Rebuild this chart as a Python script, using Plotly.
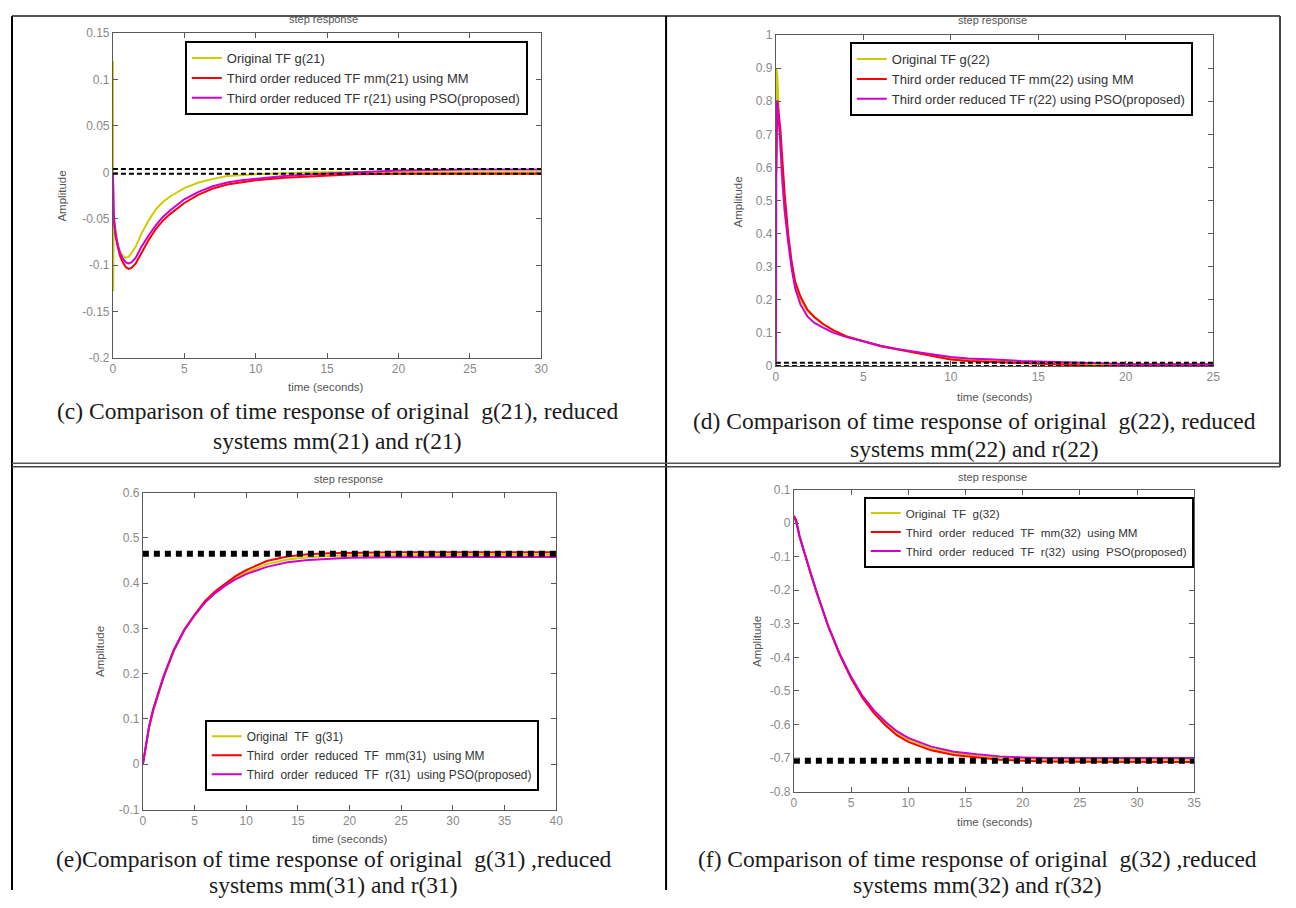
import plotly.graph_objects as go

# Figure sits inside the page's 8px body margin; positions below are written in
# reference-picture pixels and converted to paper fractions (with a small
# correction for how the page is photographed).
OFF = 8
FIG_W, FIG_H = 1280, 890
SX, BX = 0.9937, 3.0
SY, BY = 0.9875, 5.0

# ---------------- data ----------------
# (c) g(21)
t_c = [0, 0.02, 0.05, 0.1, 0.2, 0.35, 0.5, 0.7, 0.9, 1.1, 1.3, 1.6, 2, 2.5, 3, 3.5, 4, 5, 6, 7, 8, 9, 10, 12, 14, 17, 20, 25, 30]
g21 = [0.12, -0.128, -0.06, -0.052, -0.065, -0.078, -0.085, -0.09, -0.092, -0.091, -0.087, -0.08, -0.066, -0.052, -0.04, -0.032, -0.026, -0.017, -0.011, -0.007, -0.004, -0.003, -0.002, -0.001, 0.0, 0.0, 0.0, 0.0, 0.0]
mm21 = [0.0, -0.031, -0.045, -0.056, -0.07, -0.081, -0.09, -0.097, -0.102, -0.104, -0.103, -0.098, -0.087, -0.073, -0.061, -0.052, -0.045, -0.033, -0.024, -0.0175, -0.013, -0.0105, -0.0086, -0.0057, -0.004, -0.002, -0.0015, -0.0015, -0.0015]
r21 = [0.0, -0.03, -0.044, -0.055, -0.068, -0.079, -0.087, -0.093, -0.097, -0.098, -0.097, -0.092, -0.08, -0.068, -0.057, -0.048, -0.041, -0.029, -0.021, -0.015, -0.011, -0.0085, -0.007, -0.004, -0.002, 0.0, 0.002, 0.003, 0.003]
ss_c = [0.0035, -0.0015]
xr_c = [0, 30]

# (d) g(22)
t_d = [0, 0.03, 0.08, 0.15, 0.25, 0.35, 0.5, 0.7, 0.9, 1.1, 1.4, 1.8, 2.2, 2.7, 3.3, 4, 5, 6, 7, 8, 9, 10, 11, 12.5, 14, 16, 18, 20, 25]
g22 = [0.56, 0.90, 0.88, 0.78, 0.66, 0.56, 0.47, 0.385, 0.305, 0.245, 0.2, 0.166, 0.146, 0.126, 0.108, 0.09, 0.075, 0.06, 0.05, 0.04, 0.032, 0.025, 0.02, 0.015, 0.01, 0.007, 0.005, 0.005, 0.005]
mm22 = [0.56, 0.60, 0.80, 0.77, 0.72, 0.64, 0.52, 0.40, 0.315, 0.255, 0.21, 0.17, 0.148, 0.127, 0.108, 0.09, 0.075, 0.06, 0.05, 0.04, 0.03, 0.02, 0.015, 0.012, 0.008, 0.004, 0.001, 0.0, 0.0]
r22 = [0.0, 0.80, 0.80, 0.76, 0.68, 0.58, 0.47, 0.375, 0.295, 0.235, 0.186, 0.15, 0.13, 0.116, 0.10, 0.088, 0.074, 0.061, 0.051, 0.042, 0.035, 0.027, 0.023, 0.02, 0.015, 0.012, 0.008, 0.006, 0.005]
ss_d = [0.01, 0.0]
xr_d = [0, 25]

# (e) g(31)
t_e = [0, 0.3, 0.6, 1, 1.5, 2, 3, 4, 5, 6, 7, 8, 9, 10, 12, 14, 16, 18, 20, 24, 28, 32, 36, 40]
g31 = [0, 0.036, 0.08, 0.118, 0.155, 0.19, 0.25, 0.295, 0.328, 0.357, 0.379, 0.397, 0.412, 0.424, 0.442, 0.452, 0.457, 0.46, 0.461, 0.462, 0.463, 0.463, 0.463, 0.463]
mm31 = [0, 0.04, 0.084, 0.122, 0.158, 0.194, 0.253, 0.297, 0.33, 0.36, 0.382, 0.4, 0.416, 0.429, 0.449, 0.459, 0.464, 0.466, 0.467, 0.468, 0.468, 0.468, 0.468, 0.468]
r31 = [0, 0.038, 0.082, 0.12, 0.157, 0.193, 0.252, 0.296, 0.329, 0.357, 0.378, 0.395, 0.409, 0.42, 0.436, 0.446, 0.451, 0.454, 0.456, 0.457, 0.458, 0.458, 0.458, 0.458]
ss_e = [0.465]
xr_e = [0, 40]

# (f) g(32)
t_f = [0, 0.2, 0.5, 1, 1.5, 2, 3, 4, 5, 6, 7, 8, 9, 10, 12, 14, 16, 18, 20, 22, 26, 30, 35]
g32 = [0.019, 0.005, -0.04, -0.098, -0.152, -0.205, -0.305, -0.388, -0.458, -0.517, -0.561, -0.596, -0.625, -0.645, -0.672, -0.686, -0.694, -0.699, -0.702, -0.704, -0.705, -0.705, -0.705]
mm32 = [0.022, 0.01, -0.038, -0.1, -0.155, -0.208, -0.308, -0.392, -0.462, -0.521, -0.566, -0.602, -0.632, -0.652, -0.677, -0.691, -0.699, -0.705, -0.708, -0.71, -0.711, -0.712, -0.712]
r32 = [0.018, 0.004, -0.042, -0.099, -0.153, -0.206, -0.306, -0.389, -0.458, -0.515, -0.558, -0.592, -0.62, -0.64, -0.666, -0.681, -0.689, -0.695, -0.698, -0.7, -0.7, -0.7, -0.7]
ss_f = [-0.708]
xr_f = [0, 35]

# tick labels
xt_c = [0, 5, 10, 15, 20, 25, 30]
yt_c = [0.15, 0.1, 0.05, 0, -0.05, -0.1, -0.15, -0.2]
ytl_c = ["0.15", "0.1", "0.05", "0", "-0.05", "-0.1", "-0.15", "-0.2"]
xt_d = [0, 5, 10, 15, 20, 25]
yt_d = [1, 0.9, 0.8, 0.7, 0.6, 0.5, 0.4, 0.3, 0.2, 0.1, 0]
ytl_d = ["1", "0.9", "0.8", "0.7", "0.6", "0.5", "0.4", "0.3", "0.2", "0.1", "0"]
xt_e = [0, 5, 10, 15, 20, 25, 30, 35, 40]
yt_e = [0.6, 0.5, 0.4, 0.3, 0.2, 0.1, 0, -0.1]
ytl_e = ["0.6", "0.5", "0.4", "0.3", "0.2", "0.1", "0", "-0.1"]
xt_f = [0, 5, 10, 15, 20, 25, 30, 35]
yt_f = [0.1, 0, -0.1, -0.2, -0.3, -0.4, -0.5, -0.6, -0.7, -0.8]
ytl_f = ["0.1", "0", "-0.1", "-0.2", "-0.3", "-0.4", "-0.5", "-0.6", "-0.7", "-0.8"]

names_c = ["Original TF g(21)", "Third order reduced TF mm(21) using MM", "Third order reduced TF r(21) using PSO(proposed)"]
names_d = ["Original TF g(22)", "Third order reduced TF mm(22) using MM", "Third order reduced TF r(22) using PSO(proposed)"]
names_e = ["Original  TF  g(31)", "Third  order  reduced  TF  mm(31)  using MM", "Third  order  reduced  TF  r(31)  using PSO(proposed)"]
names_f = ["Original  TF  g(32)", "Third  order  reduced  TF  mm(32)  using MM", "Third  order  reduced  TF  r(32)  using  PSO(proposed)"]

captions = [
    ["(c) Comparison of time response of original  g(21), reduced", "systems mm(21) and r(21)"],
    ["(d) Comparison of time response of original  g(22), reduced", "systems mm(22) and r(22)"],
    ["(e)Comparison of time response of original  g(31) ,reduced", "systems mm(31) and r(31)"],
    ["(f) Comparison of time response of original  g(32) ,reduced", "systems mm(32) and r(32)"],
]


# ---------------- layout helpers ----------------
def page_x(T):
    return min(max(T / SX - BX, OFF + 1), OFF + FIG_W - 1)


def page_y(T):
    return min(max(T / SY - BY, OFF + 1), OFF + FIG_H - 1)


def xd(T):
    return (page_x(T) - OFF) / FIG_W


def yd(T):
    return 1 - (page_y(T) - OFF) / FIG_H


YELLOW = "#cccc00"
RED = "#ff0000"
MAGENTA = "#d000d0"
SANS = "Liberation Sans, Arial, sans-serif"
SERIF = "Liberation Serif, Times New Roman, serif"

panels = [
    dict(t=t_c, ys=[g21, mm21, r21], ss=ss_c, xr=xr_c, names=names_c, box=(113, 542, 31, 357),
         yr=[-0.2, 0.15], xt=xt_c, yt=yt_c, ytl=ytl_c, leg=(185, 39), lfs=13, ssstyle="c",
         title=(324, 17), xlab=(326, 386), ylab=(62, 194), cap=(338, 410, 440)),
    dict(t=t_d, ys=[g22, mm22, r22], ss=ss_d, xr=xr_d, names=names_d, box=(777, 1215, 33, 365),
         yr=[0, 1], xt=xt_d, yt=yt_d, ytl=ytl_d, leg=(851, 40), lfs=13, ssstyle="c",
         title=(994, 18), xlab=(996, 396), ylab=(739, 200), cap=(976, 420, 448)),
    dict(t=t_e, ys=[g31, mm31, r31], ss=ss_e, xr=xr_e, names=names_e, box=(143, 557, 492, 810),
         yr=[-0.1, 0.6], xt=xt_e, yt=yt_e, ytl=ytl_e, leg=(205, 720), lfs=11.9, ssstyle="e",
         title=(349, 478), xlab=(350, 840), ylab=(100, 651), cap=(334, 860, 886)),
    dict(t=t_f, ys=[g32, mm32, r32], ss=ss_f, xr=xr_f, names=names_f, box=(795, 1196, 489, 792),
         yr=[-0.8, 0.1], xt=xt_f, yt=yt_f, ytl=ytl_f, leg=(865, 496), lfs=11.6, ssstyle="e",
         title=(994, 476), xlab=(996, 822), ylab=(758, 641), cap=(979, 860, 886)),
]

fig = go.Figure()
annotations = []
shapes = []
colors = [YELLOW, RED, MAGENTA]


def ann(x, y, text, size, color, family=SANS, angle=0):
    annotations.append(dict(x=xd(x), y=yd(y), xref="paper", yref="paper", text=text,
                            xanchor="center", yanchor="middle", textangle=angle,
                            showarrow=False, font=dict(family=family, size=size, color=color)))


for i, p in enumerate(panels, start=1):
    xa = "x" if i == 1 else f"x{i}"
    ya = "y" if i == 1 else f"y{i}"
    lg = "legend" if i == 1 else f"legend{i}"
    for k in range(3):
        fig.add_trace(go.Scatter(
            x=p["t"], y=p["ys"][k], mode="lines", name=p["names"][k],
            line=dict(color=colors[k], width=2), xaxis=xa, yaxis=ya, legend=lg,
            hoverinfo="skip"))
    for v in p["ss"]:
        if p["ssstyle"] == "c":
            ln = dict(color="black", width=2, dash="5px,3px")
        else:
            ln = dict(color="black", width=6, dash="6px,5px")
        fig.add_trace(go.Scatter(
            x=p["xr"], y=[v, v], mode="lines", showlegend=False,
            line=ln, xaxis=xa, yaxis=ya, hoverinfo="skip"))

    x0, x1, y0, y1 = p["box"]
    axcommon = dict(showline=True, mirror="ticks", linecolor="#5a5a5a", linewidth=1,
                    ticks="inside", ticklen=5, tickcolor="#5a5a5a", showgrid=False,
                    zeroline=False, tickfont=dict(family=SANS, size=12, color="#8a8a8a"),
                    fixedrange=True)
    fig.update_layout({
        ("xaxis" if i == 1 else f"xaxis{i}"): dict(
            domain=[xd(x0), xd(x1)], range=p["xr"], anchor=ya,
            tickvals=p["xt"], ticktext=[str(v) for v in p["xt"]], **axcommon),
        ("yaxis" if i == 1 else f"yaxis{i}"): dict(
            domain=[yd(y1), yd(y0)], range=p["yr"], anchor=xa,
            tickvals=p["yt"], ticktext=p["ytl"], **axcommon),
        lg: dict(x=xd(p["leg"][0]), y=yd(p["leg"][1]), xanchor="left", yanchor="top",
                 bgcolor="white", bordercolor="black", borderwidth=2,
                 font=dict(family=SANS, size=p["lfs"], color="#333333"),
                 tracegroupgap=0, itemclick=False, itemdoubleclick=False),
    })

    ann(*p["title"], "step response", 11, "#555555")
    ann(*p["xlab"], "time (seconds)", 11.5, "#555555")
    ann(*p["ylab"], "Amplitude", 11.5, "#555555", angle=-90)
    cx, cy1, cy2 = p["cap"]
    ann(cx, cy1, captions[i - 1][0], 23.5, "#1a1a1a", family=SERIF)
    ann(cx, cy2, captions[i - 1][1], 23.5, "#1a1a1a", family=SERIF)


# table borders
def pline(xa0, ya0, xa1, ya1, color="black", width=2):
    shapes.append(dict(type="line", xref="paper", yref="paper", x0=xd(xa0), y0=yd(ya0),
                       x1=xd(xa1), y1=yd(ya1), line=dict(color=color, width=width)))


pline(8, 10, 1296, 10, "#555555", 2)
pline(8, 10, 8, 908, "black", 2)
pline(667, 7, 667, 908, "black", 2)
pline(1294, 10, 1294, 466, "#444444", 2)
pline(8, 462.5, 1296, 462.5, "#555555", 1.5)
pline(8, 466, 1296, 466, "#444444", 1.5)

fig.update_layout(
    width=FIG_W, height=FIG_H, margin=dict(l=0, r=0, t=0, b=0),
    paper_bgcolor="white", plot_bgcolor="white",
    annotations=annotations, shapes=shapes,
    font=dict(family=SANS), hovermode=False,
)

fig.write_html("out.html", config={"displayModeBar": False})
